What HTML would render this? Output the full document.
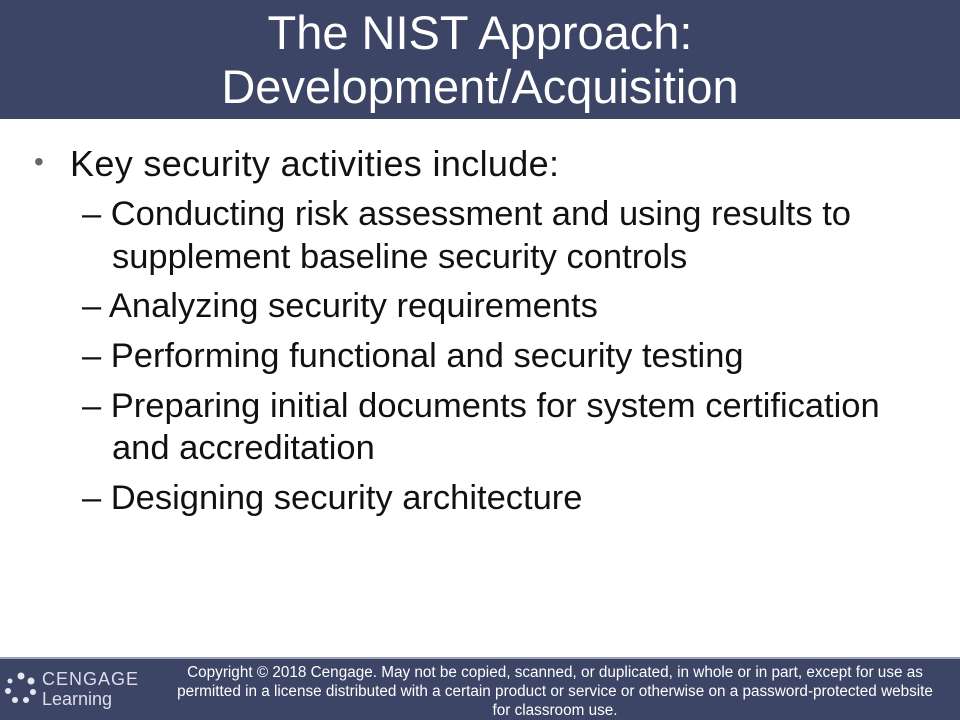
<!DOCTYPE html>
<html><head><meta charset="utf-8"><style>
body{margin:0;width:960px;height:720px;overflow:hidden;background:#fff;font-family:"Liberation Sans",sans-serif;position:relative}
#hdr{position:absolute;left:0;top:0;width:960px;height:119px;background:#3c4565;color:#fff;text-align:center;font-size:47px;line-height:54px;padding-top:6px;box-sizing:border-box}
.t{position:absolute;color:#111;font-size:34.5px;white-space:nowrap}
#ftr{position:absolute;left:0;top:657px;width:960px;height:63px;background:#3c4565;border-top:2px solid #9aa0b5;box-sizing:border-box}
#copy{position:absolute;left:150px;top:4px;width:810px;text-align:center;color:#fff;font-size:15.3px;line-height:19px}
#logo{position:absolute;left:42px;top:10px;color:#dde;font-size:18px;line-height:20px;letter-spacing:1px}
</style></head><body>
<div id="hdr">The NIST Approach:<br>Development/Acquisition</div>
<div class="t" style="left:34px;top:146px;color:#666;font-size:28px">•</div>
<div class="t" style="left:70px;top:143px;font-size:36px;letter-spacing:0.35px">Key security activities include:</div>
<div class="t" style="left:82px;top:195px">– Conducting risk assessment and using results to</div>
<div class="t" style="left:112px;top:238px">supplement baseline security controls</div>
<div class="t" style="left:82px;top:287px">– Analyzing security requirements</div>
<div class="t" style="left:82px;top:337px">– Performing functional and security testing</div>
<div class="t" style="left:82px;top:387px">– Preparing initial documents for system certification</div>
<div class="t" style="left:112px;top:429px">and accreditation</div>
<div class="t" style="left:82px;top:479px">– Designing security architecture</div>
<div id="ftr">
<svg style="position:absolute;left:4px;top:12px" width="34" height="34">
<g fill="#e6e8ef"><circle cx="17" cy="5" r="3.5"/><circle cx="27" cy="10" r="3.5"/><circle cx="29" cy="21" r="3"/><circle cx="22" cy="29" r="3"/><circle cx="11" cy="29" r="3"/><circle cx="4" cy="20" r="3"/><circle cx="6" cy="10" r="2.5"/></g></svg>
<div id="logo">CENGAGE<br><span style="letter-spacing:0">Learning</span></div>
<div id="copy">Copyright © 2018 Cengage. May not be copied, scanned, or duplicated, in whole or in part, except for use as<br>permitted in a license distributed with a certain product or service or otherwise on a password-protected website<br>for classroom use.</div>
</div>
</body></html>
